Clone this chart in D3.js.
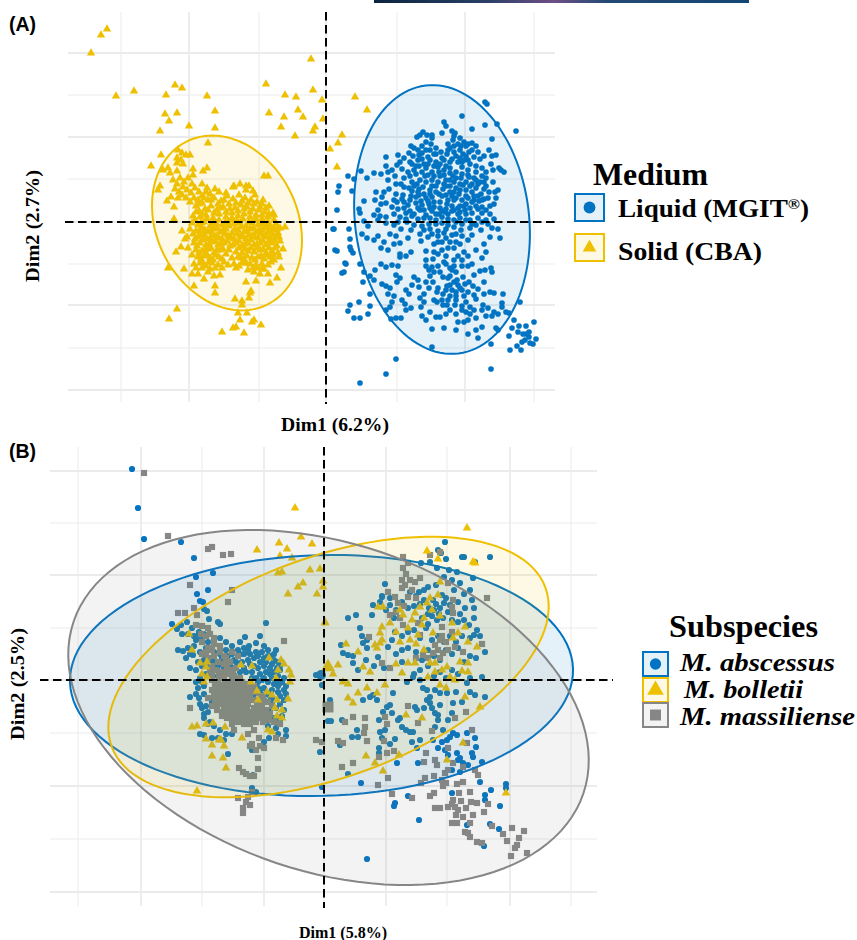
<!DOCTYPE html>
<html><head><meta charset="utf-8">
<script src="https://d3js.org/d3.v7.min.js"></script>
<style>html,body{margin:0;padding:0;background:#fff}svg{display:block}</style>
</head><body><svg id="c" width="857" height="940"></svg>
<script>
// Scores, in arbitrary PCA score units (no tick labels in the source)
const gridStepsA_x=[-205,-137,-67,0,71,139,208];
const gridStepsA_y=[169,127,85,43,0,-42,-83,-126,-168];
const gridStepsB_x=[-246,-183,-122,-60,0,62,123,186,247];
const gridStepsB_y=[209,157,105,52,0,-53,-106,-159,-212];
const mediumLabels=["Liquid (MGIT","Solid (CBA)"];
const subspeciesLabels=["M. abscessus","M. bolletii","M. massiliense"];
const ellipseLiquidA=[116,2.5,135,87,83];
const ellipseSolidA=[-99,-1,91,70.6,63.9];
const ellipseAbscessusB=[-2.5,4.5,251.6,120.4,-1.5];
const ellipseBolletiiB=[4.5,13,231,110,-20.1];
const ellipseMassilienseB=[4.5,-27.5,269,164,18.6];
const solidA=[[-235,169],[-225,187],[-219,193],[-210,126],[-192,131],[-160,127],[-151,137],[-144,134],[-119,126],[-161,108],[-149,109],[-157,101],[-166,91],[-137,96],[-111,111],[-111,94],[-60,138],[-15,163],[-13,132],[-41,127],[-30,125],[-4,122],[-57,109],[-42,105],[-28,112],[-23,105],[-45,95],[-3,103],[-11,95],[-13,91],[-31,86],[4,73],[12,79],[16,87],[11,55],[29,125],[41,112],
[-118,79],[-165,67],[-175,56],[-148,72],[-144,69],[-140,67],[-136,67],[-149,64],[-145,62],[-143,58],[-149,59],[-163,52],[-158,54],[-156,49],[-149,51],[-133,53],[-119,54],[-123,51],[-62,46],[-58,46],[-133,47],
[-153,42],[-149,38],[-146,44],[-142,40],[-138,44],[-134,38],[-151,33],[-147,30],[-143,35],[-139,32],[-135,29],[-131,34],[-127,30],[-148,24],[-144,27],[-140,24],[-136,20],[-132,24],[-128,22],[-124,26],[-120,30],[-116,28],[-124,38],[-119,34],[-111,33],[-107,30],[-100,29],[-92,36],[-86,38],[-80,32],[-77,36],[-71,27],[-168,32],[-166,36],[-159,21],[-155,25],[-152,15],[-152,3],[-144,-9],[-139,-15],[-141,-17],[-145,-25],[-150,-30],[-138,-26],[-158,-46],[-142,-47],[-132,-64],[-111,-64],[-111,-71],[-80,-60],[-70,-59],[-56,-61],[-49,-56],[-58,-52],[-45,-46],[-43,-27],[-41,-5],[-53,9],[-57,16],[-63,22],[-73,31],[-80,36],[-93,35],[-149,-87],[-157,-97],[-91,-77],[-84,-79],[-84,-83],[-75,-69],[-76,-71],[-77,-76],[-88,-91],[-79,-91],[-86,-98],[-72,-98],[-74,-100],[-65,-103],[-104,-110],[-93,-106],[-90,-105],[-82,-111],
[-130,16],[-124,19],[-118,22],[-112,24],[-105,21],[-99,26],[-93,23],[-87,27],[-81,24],[-75,22],[-69,20],[-64,18],[-127,11],[-121,13],[-115,16],[-109,12],[-103,15],[-97,18],[-91,14],[-85,17],[-79,15],[-73,13],[-67,12],[-61,10],[-57,8],[-133,6],[-126,5],[-120,7],[-113,4],[-107,8],[-100,5],[-94,9],[-88,6],[-82,8],[-76,5],[-70,7],[-64,3],[-58,5],[-52,2],[-134,-1],[-128,-3],[-122,0],[-116,-4],[-110,-1],[-104,-3],[-98,0],[-92,-2],[-86,-1],[-80,-4],[-74,-1],[-68,-3],[-62,-1],[-56,-4],[-50,-2],[-46,-6],[-136,-7],[-130,-9],[-124,-6],[-118,-10],[-112,-7],[-106,-10],[-100,-7],[-94,-11],[-88,-8],[-82,-10],[-76,-7],[-70,-10],[-64,-8],[-58,-10],[-52,-8],[-48,-11],[-128,-15],[-122,-13],[-116,-16],[-110,-14],[-104,-17],[-98,-14],[-92,-17],[-86,-14],[-80,-17],[-74,-14],[-68,-16],[-62,-14],[-56,-16],[-50,-15],[-46,-19],[-132,-21],[-126,-21],[-120,-23],[-114,-20],[-108,-23],[-102,-21],[-96,-24],[-90,-21],[-84,-24],[-78,-21],[-72,-23],[-66,-21],[-60,-23],[-54,-21],[-49,-24],[-130,-28],[-124,-29],[-118,-27],[-112,-31],[-106,-28],[-100,-32],[-90,-30],[-84,-31],[-78,-29],[-72,-30],[-66,-28],[-60,-31],[-54,-29],[-48,-31],[-134,-33],[-128,-35],[-122,-34],[-116,-36],[-110,-33],[-104,-37],[-88,-35],[-82,-37],[-74,-36],[-68,-35],[-62,-37],[-56,-35],[-52,-38],[-132,-42],[-126,-41],[-120,-44],[-114,-41],[-108,-43],[-102,-40],[-92,-42],[-84,-41],[-76,-42],[-70,-43],[-64,-42],[-58,-43],[-134,-52],[-128,-52],[-124,-46],[-118,-50],[-112,-54],[-106,-53],[-104,-46],[-90,-46],[-78,-48],[-72,-50],[-66,-52],[-68,-46],[-62,-47],[-122,-57],[-116,-47],
[-127,18],[-122,24],[-115,22],[-108,18],[-102,22],[-96,13],[-90,19],[-84,21],[-78,19],[-72,18],[-66,15],[-60,14],[-130,10],[-124,8],[-118,12],[-112,9],[-106,14],[-100,10],[-94,4],[-88,11],[-82,13],[-76,10],[-70,3],[-64,7],[-58,0],[-52,7],[-131,2],[-125,-1],[-119,3],[-113,-1],[-107,2],[-101,-1],[-95,2],[-89,1],[-83,3],[-77,0],[-71,2],[-65,-2],[-59,-5],[-53,-6],[-133,-12],[-127,-9],[-121,-8],[-115,-9],[-109,-6],[-103,-8],[-97,-4],[-91,-7],[-85,-5],[-79,-9],[-73,-6],[-67,-8],[-61,-6],[-55,-10],[-49,-7],[-131,-17],[-125,-13],[-119,-17],[-113,-13],[-107,-16],[-101,-12],[-95,-16],[-89,-12],[-83,-15],[-77,-13],[-71,-15],[-65,-12],[-59,-15],[-53,-13],[-47,-15],[-129,-24],[-123,-18],[-117,-22],[-111,-19],[-105,-22],[-99,-19],[-93,-23],[-87,-19],[-81,-22],[-75,-18],[-69,-22],[-63,-19],[-57,-20],[-51,-19],[-127,-31],[-121,-28],[-115,-26],[-109,-28],[-103,-27],[-97,-28],[-87,-26],[-81,-27],[-75,-26],[-69,-26],[-63,-27],[-57,-26],[-51,-26],[-125,-37],[-119,-33],[-113,-38],[-107,-35],[-94,-36],[-85,-36],[-79,-34],[-71,-38],[-65,-34],[-59,-33],[-53,-33],[-47,-35],[-130,-46],[-123,-41],[-117,-40],[-111,-46],[-98,-43],[-87,-44],[-80,-41],[-73,-46],[-64,-47],[-55,-40]];
const liquidA=[[159,120],[161,118],[136,106],[171,98],[159,97],[146,93],[190,91],[118,100],[120,96],[126,91],[129,89],[116,89],[97,90],[94,87],[91,85],[101,87],[106,87],[106,84],[166,83],[85,76],[88,74],[127,82],[132,78],[128,76],[124,74],[138,80],[146,79],[150,76],[140,76],[134,72],[163,72],[166,66],[158,66],[170,67],[60,65],[72,67],[83,69],[87,66],[93,67],[96,69],[102,65],[108,68],[115,70],[121,68],[130,66],[137,68],[143,70],[148,65],[154,63],[142,62],[136,60],[124,60],[118,62],[110,60],[104,62],[98,58],[92,62],[84,60],[78,64],[74,60],[165,58],[173,54],[167,52],[175,52],[178,50],[60,56],[66,52],[62,50],[71,57],[76,53],[82,50],[88,52],[93,56],[100,54],[106,50],[112,55],[118,52],[124,54],[130,50],[136,55],[142,52],[150,50],[156,46],[150,42],[143,45],[135,44],[127,46],[120,42],[114,46],[106,42],[99,46],[94,42],[86,40],[78,44],[70,38],[48,49],[35,51],[41,44],[55,48],[62,42],[69,46],[75,38],[83,34],[91,38],[97,35],[104,32],[110,36],[117,33],[124,36],[130,34],[137,37],[144,36],[150,34],[158,40],[160,36],[167,40],[172,32],[169,30],[163,30],[155,28],[148,26],[140,26],[133,28],[126,26],[120,27],[113,28],[106,25],[100,24],[93,27],[85,26],[77,27],[70,28],[63,33],[58,30],[50,30],[56,25],[49,22],[22,46],[28,43],[13,36],[12,30],[26,31],[11,12],[38,21],[33,13],[55,18],[52,12],[60,19],[66,15],[71,20],[68,22],[76,23],[82,17],[90,19],[95,21],[103,18],[108,15],[114,20],[121,18],[128,22],[134,16],[140,18],[146,20],[153,21],[158,23],[164,16],[170,24],[168,18],[160,12],[152,13],[146,9],[139,12],[132,8],[126,11],[119,10],[113,8],[106,11],[100,7],[94,12],[88,8],[80,9],[74,5],[68,8],[60,5],[54,6],[48,7],[34,9],[38,1],[42,-4],[52,2],[60,-1],[68,-3],[75,-7],[81,0],[88,-3],[96,-4],[103,-2],[110,2],[116,-1],[122,3],[130,0],[136,-2],[144,2],[150,-3],[156,0],[162,-2],[168,3],[172,-7],[166,-6],[155,-8],[144,-6],[135,-8],[128,-5],[120,-7],[112,-9],[104,-7],[94,-12],[85,-8],[7,-7],[23,-7],[8,-7],[24,-17],[36,-12],[41,-16],[48,-18],[52,-14],[58,-20],[64,-12],[70,-14],[68,-22],[74,-21],[82,-16],[95,-19],[102,-15],[108,-22],[112,-20],[120,-16],[126,-13],[130,-20],[142,-18],[146,-13],[158,-22],[164,-15],[174,-16],[55,-26],[62,-28],[74,-32],[80,-34],[85,-30],[100,-29],[108,-30],[116,-28],[120,-34],[128,-38],[138,-30],[142,-34],[150,-28],[156,-36],[160,-30],[24,-25],[25,-28],[27,-31],[55,-42],[60,-45],[66,-43],[72,-44],[74,-35],[100,-38],[107,-37],[100,-44],[103,-48],[120,-42],[126,-48],[114,-50],[122,-56],[130,-50],[146,-42],[136,-44],[142,-44],[20,-42],[19,-41],[9,-28],[11,-29],[34,-42],[48,-58],[74,-56],[70,-53],[88,-55],[92,-58],[103,-66],[107,-60],[117,-55],[121,-64],[128,-60],[131,-58],[137,-55],[143,-60],[159,-48],[165,-46],[166,-50],[154,-49],[148,-53],[124,-63],[139,-62],[147,-64],[152,-67],[158,-60],[71,-60],[62,-72],[68,-74],[80,-68],[86,-63],[93,-65],[98,-72],[94,-76],[100,-60],[111,-70],[117,-72],[108,-78],[124,-74],[130,-70],[134,-66],[142,-70],[148,-73],[158,-72],[164,-70],[38,-50],[49,-48],[18,-50],[16,-51],[44,-54],[37,-60],[44,-72],[56,-62],[60,-64],[64,-66],[76,-78],[83,-72],[66,-80],[79,-82],[95,-85],[98,-80],[111,-80],[117,-83],[121,-83],[130,-78],[140,-80],[150,-77],[157,-83],[168,-71],[177,-72],[194,-80],[176,-81],[176,-85],[166,-94],[172,-92],[180,-90],[168,-90],[160,-94],[162,-86],[136,-88],[129,-83],[144,-85],[156,-88],[120,-92],[124,-88],[114,-95],[110,-95],[104,-90],[100,-98],[96,-94],[144,-92],[150,-96],[132,-100],[138,-100],[142,-98],[150,-108],[156,-105],[170,-106],[172,-108],[118,-106],[130,-108],[142,-112],[152,-116],[165,-122],[106,-107],[65,-97],[60,-88],[42,-92],[75,-96],[34,-96],[64,-85],[70,-96],[28,-96],[22,-89],[24,-83],[33,-80],[44,-84],[80,-88],[85,-86],[188,-98],[193,-104],[197,-112],[200,-112],[203,-115],[207,-122],[203,-110],[200,-104],[210,-117],[192,-110],[186,-106],[183,-114],[184,-128],[191,-124],[195,-128],[196,-120],[208,-100],[199,-118],[204,-121],[183,-91],[106,-125],[70,-137],[60,-152],[34,-161],[165,-147],
[100,80],[105,78],[110,74],[96,76],[128,86],[134,84],[122,78],[135,76],[142,78],[104,72],[110,68],[116,64],[122,72],[128,70],[134,64],[140,66],[146,72],[152,70],[100,72],[92,72],[86,58],[90,56],[96,63],[102,58],[108,56],[114,58],[120,56],[126,63],[132,60],[138,62],[144,58],[150,56],[156,54],[160,50],[84,46],[90,48],[96,50],[102,47],[108,46],[113,50],[118,47],[124,49],[130,44],[136,48],[142,47],[148,44],[154,40],[160,44],[88,36],[93,33],[100,40],[106,36],[112,40],[118,38],[124,42],[128,40],[134,38],[140,40],[146,38],[152,38],[158,33],[162,24],[78,35],[86,31],[92,30],[98,28],[104,28],[110,30],[116,26],[122,22],[128,30],[134,32],[140,32],[146,30],[152,26],[156,22],[120,36],[124,30],[130,24],[136,22],[142,24],[148,22],[78,20],[84,22],[90,25],[96,17],[102,21],[108,20],[114,14],[120,13],[126,16],[132,14],[138,16],[144,14],[150,16],[156,15],[72,13],[78,14],[84,11],[92,14],[98,12],[104,14],[110,8],[116,11],[122,8],[128,12],[134,10],[140,8],[156,9],[164,8],[72,0],[80,3],[86,6],[92,3],[98,4],[104,4],[110,-2],[116,5],[122,-3],[128,2],[134,4],[140,2],[146,-2],[152,4],[160,2],[106,-12],[112,-14],[118,-11],[124,-20],[130,-12],[136,-14],[98,-8],[116,-20],[122,-26],[128,-26],[134,-22],[112,-32],[118,-40],[124,-46],[128,-44],[132,-34],[136,-38],[124,-54],[132,-63],[136,-68],[126,-68],[130,-74],[138,-74],[112,-44],[108,-50],[104,-54],[106,-45],[112,-66],[120,-68],[116,-78],[122,-78],[136,-84],[140,-90],[148,-88],[130,-92]];
const abscessusB=[[-192,211],[-186,172],[-180,141],[-143,138],[-130,122],[-128,103],[-111,107],[-116,90],[-127,86],[-124,79],[-121,78],[-120,71],[-117,69],[-115,61],[-106,58],[-104,56],[-58,57],[-64,44],[-68,37],[-60,34],[-56,30],[-48,30],[-152,56],[-147,51],[-143,55],[-137,58],[-132,52],[-142,46],[-136,46],[-130,44],[-125,48],[-128,40],[-122,40],[-116,38],[-98,38],[-92,34],[-84,38],[-79,43],[-75,34],[-80,32],[-146,30],[-141,29],[-136,32],[-131,25],[-124,28],[-102,22],[-96,24],[-90,20],[-84,26],[-76,30],[-70,22],[-66,24],[-60,22],[-54,24],[-50,20],[-46,18],[-134,12],[-128,10],[-122,14],[-116,16],[-108,18],[-100,12],[-94,14],[-88,12],[-80,12],[-74,16],[-66,12],[-60,14],[-54,12],[-50,8],[-44,10],[-124,2],[-118,6],[-72,8],[-64,6],[-58,8],[-52,2],[-46,4],[-40,2],[-68,2],[-62,0],[-56,-2],[-50,-4],[-44,-3],[-38,-6],[-126,-8],[-120,-6],[-72,-6],[-66,-8],[-60,-8],[-52,-10],[-46,-12],[-40,-10],[-134,-17],[-125,-18],[-120,-14],[-112,-22],[-60,-20],[-52,-18],[-44,-16],[-40,-20],[-122,-28],[-116,-32],[-54,-30],[-48,-28],[-40,-30],[-120,-38],[-114,-42],[-50,-38],[-44,-40],[-124,-54],[-120,-55],[-112,-58],[-106,-58],[-100,-60],[-46,-54],[-38,-56],[-38,-50],[-55,-58],[-60,-62],[-96,-74],[-72,-70],[-71,-95],[-68,-112],[-72,-108],[4,-41],[-2,-5],[-8,5],
[-110,28],[-104,26],[-98,30],[-92,26],[-86,30],[-80,26],[-74,26],[-68,28],[-62,28],[-56,24],[-50,26],[-47,12],[-112,20],[-106,14],[-100,20],[-94,8],[-88,18],[-82,18],[-76,20],[-70,14],[-64,18],[-58,18],[-52,16],[-44,14],[-112,6],[-106,4],[-84,8],[-78,8],[-72,2],[-66,-2],[-60,2],[-54,6],[-48,-2],[-42,-2],[-128,-2],[-122,-2],[-78,-4],[-70,-14],[-64,-12],[-58,-14],[-54,-16],[-46,-6],[-38,-14],[-128,-14],[-124,-24],[-118,-26],[-120,-34],[-116,-44],[-110,-46],[-104,-50],[-98,-54],[-92,-54],[-56,-46],[-48,-48],[-44,-24],[-42,-36],[-52,-24],[-126,44],[-120,46],[-118,32],[-110,40],[-104,42],[-130,34],[-134,26],[-138,22],[-126,18],[-120,20],
[121,138],[114,130],[122,121],[138,123],[140,123],[151,118],[166,123],[117,127],[97,117],[106,118],[113,112],[125,110],[133,108],[149,102],[128,100],[120,103],[61,96],[58,83],[95,88],[104,93],[112,95],[136,97],[146,90],[148,80],[150,72],[141,72],[136,66],[150,62],[145,55],[153,50],[156,44],[161,28],[158,36],[150,45],
[109,80],[112,76],[116,72],[120,77],[124,68],[110,70],[115,66],[119,62],[105,72],[122,82],[118,85],[126,75],[108,64],[113,60],[104,66],[100,80],[96,76],[92,84],[86,88],[100,90],[130,90],[140,86],[134,78],[128,60],[134,58],[140,60],[104,56],[98,62],[90,74],[84,72],[78,78],[72,70],[66,82],[70,62],[62,70],[56,78],
[24,62],[32,65],[48,65],[36,52],[38,44],[43,40],[17,35],[19,27],[24,25],[29,24],[29,17],[39,37],[43,32],[54,23],[49,75],[58,84],[66,75],[71,48],[68,40],[64,33],[78,44],[84,48],[90,50],[96,42],[102,52],[108,40],[114,44],[120,38],[126,44],[132,38],[138,44],[146,42],[104,30],[110,24],[116,20],[122,30],[128,26],[134,32],[140,18],[146,24],[72,26],[78,30],[84,32],[92,28],[98,20],[90,6],[96,10],[104,14],[110,4],[116,8],[122,2],[128,10],[134,6],[146,2],[152,22],[78,18],[60,12],[50,14],[42,20],[34,10],
[39,-20],[46,-17],[49,-15],[53,-20],[69,-13],[63,-27],[66,-25],[59,-32],[68,-33],[55,-40],[61,-50],[56,-52],[58,-58],[55,-68],[55,-73],[71,-59],[76,-38],[74,-40],[78,-47],[86,-52],[89,-52],[91,-27],[93,-30],[103,-20],[106,-23],[108,-28],[111,-33],[114,-35],[106,-17],[99,-8],[103,-10],[111,-10],[116,-13],[123,-13],[96,0],[89,3],[83,-2],[129,-23],[128,-33],[146,-12],[151,-15],[161,-17],[158,3],[143,-3],[114,-40],[111,-47],[119,-50],[126,-57],[129,-53],[133,-55],[123,-60],[118,-62],[109,-60],[114,-68],[121,-70],[124,-75],[133,-73],[136,-78],[139,-83],[144,-85],[143,-53],[151,-58],[152,-67],[148,-73],[149,-77],[158,-82],[134,-80],[156,-102],[167,-110],[182,-104],[182,-108],[161,-115],[161,-120],[176,-126],[166,-144],[175,-149],[160,-166],[143,-145],[128,-113],[95,-140],[84,-116],[71,-123],[70,-126],[43,-179],[37,-103],[24,-94],[73,-83],[93,-68],[94,-83],[7,-41],[18,-40],[28,-57],[33,-50],[16,-65],[34,-57],[96,-60],[88,-62],[82,-50],[66,-64],[-4,-72],[6,-20],[-2,-107],[100,-28],[116,-25],[124,-40],[132,-12],[138,-22],[128,-90],[136,-92]];
const bolletiiB=[[-29,172],[-67,130],[-45,137],[-37,131],[-23,143],[-12,136],[-44,124],[-32,122],[-46,107],[-42,108],[-14,110],[-4,111],[-26,93],[-21,97],[-36,86],[-7,86],[-1,99],[-1,93],[1,57],[-127,-111],
[-135,46],[-132,30],[-124,17],[-117,18],[-118,13],[-83,15],[-72,14],[-55,22],[-43,20],[-40,16],[-35,10],[-122,6],[-117,3],[-120,-2],[-73,-2],[-46,10],[-48,2],[-33,5],[-34,-2],[-67,-11],[-66,-20],[-57,-12],[-52,-15],[-36,-19],[-47,-20],[-49,-28],[-47,-36],[-42,-30],[-42,-38],[-132,-47],[-127,-46],[-118,-44],[-111,-43],[-99,-47],[-118,-59],[-112,-65],[-103,-60],[-100,-66],[-105,-60],[-112,-76],[-101,-78],[-98,-88],[-82,-58],[-56,-50],[-52,-52],
[143,152],[103,129],[114,121],[149,118],[151,117],[182,-113],[123,-80],[82,-35],[98,-38],[42,-76],[51,-83],[59,-91],[75,-75],[156,-27],[141,-17],[139,-63],[24,-18],[29,-23],[43,-8],[53,-13],[34,-13],[19,-2],[24,-4],[9,6],[14,15],[39,13],[46,8],[61,-5],[72,16],[78,7],[34,28],[22,36],[1,58],
[51,35],[56,37],[53,32],[58,40],[56,47],[58,53],[66,57],[54,73],[59,73],[76,70],[79,65],[91,67],[103,77],[114,85],[116,98],[96,73],[106,82],[128,57],[141,53],[134,47],[129,42],[144,38],[153,33],[94,45],[109,47],[76,38],[86,40],[98,55],[84,17],[91,17],[106,17],[111,17],[123,13],[136,18],[144,17],[111,8],[104,3],[126,3],[131,0],[116,-5],[122,-8],[138,9],[144,8],[118,10],[88,60],[100,62],[108,70],[84,52],[72,48],[116,64],[92,36],[100,30]];
const massilienseB=[[-180,207],[-156,144],[-116,131],[-112,133],[-101,125],[-93,126],[-134,95],[-92,90],[-96,78],[-146,67],[-139,67],[-130,72],[-127,65],[-40,39],
[-128,55],[-122,54],[-116,52],[-114,46],[-122,38],[-116,32],[-110,36],[-104,34],[-122,26],[-116,22],[-110,24],[-104,28],[-98,22],[-92,28],[-86,24],[-100,16],[-94,18],[-88,12],[-108,10],[-114,8],[-102,8],[-96,6],[-90,4],[-84,2],[-112,0],[-106,-2],[-100,2],[-94,-4],[-88,-4],[-82,-2],[-76,-4],[-112,-10],[-106,-8],[-100,-10],[-94,-12],[-88,-12],[-82,-10],[-76,-10],[-70,-6],[-64,-16],[-116,-18],[-110,-16],[-104,-18],[-98,-20],[-92,-20],[-86,-18],[-80,-18],[-74,-16],[-68,-20],[-62,-24],[-56,-22],[-112,-26],[-106,-24],[-100,-28],[-94,-28],[-88,-26],[-82,-26],[-76,-24],[-70,-28],[-64,-30],[-58,-30],[-52,-26],[-102,-36],[-96,-34],[-90,-36],[-84,-34],[-78,-34],[-72,-36],[-66,-38],[-60,-38],[-54,-34],[-50,-42],[-80,-44],[-74,-44],[-68,-42],[-92,-44],[-86,-42],[-90,-50],[-76,-54],[-70,-50],[-44,-44],[-48,-58],[-41,-60],[-74,-66],[-72,-64],[-68,-70],[-64,-66],[-60,-68],[-66,-78],[-65,-58],[-85,-88],[-81,-92],[-78,-94],[-74,-96],[-70,-96],[-66,-89],[-76,-117],[-78,-122],[-72,-112],[-86,-118],[-74,-125],[-81,-133],[-81,-128],[-134,-28],
[-109,-5],[-103,-5],[-97,-8],[-91,-8],[-85,-8],[-79,-6],[-109,-13],[-103,-14],[-97,-15],[-91,-15],[-85,-14],[-79,-14],[-73,-12],[-67,-12],[-109,-21],[-103,-22],[-97,-24],[-91,-24],[-85,-22],[-79,-22],[-73,-20],[-67,-24],[-61,-18],[-107,-30],[-101,-32],[-95,-31],[-89,-31],[-83,-30],[-77,-30],[-71,-32],[-65,-34],[-59,-34],[-97,-38],[-91,-40],[-85,-38],[-79,-39],[-73,-40],[-67,-36],[-61,-42],[-55,-40],[-112,4],[-105,4],[-99,-2],[-92,0],[-86,-1],[-97,12],[-91,10],[-112,14],[-106,18],[-118,28],[-112,30],[-100,24],[-118,44],[-123,46],[-110,42],
[79,123],[84,117],[106,125],[116,128],[163,82],[158,36],[45,43],[58,17],[66,12],[78,100],[81,95],[86,100],[91,98],[96,102],[64,88],[71,83],[74,77],[84,83],[66,65],[76,62],[79,55],[94,57],[96,45],[118,53],[116,40],[111,35],[99,25],[109,27],[119,27],[131,33],[139,28],[129,67],[128,73],[124,97],[129,80],[79,112],[82,106],[78,92],[88,90],[92,82],[80,74],[72,68],[118,44],[122,38],[128,48],[124,30],[114,30],[104,22],[92,22],[116,22],
[68,-114],[88,-118],[97,-103],[101,-98],[106,-116],[110,-113],[111,-128],[116,-128],[119,-106],[122,-103],[124,-127],[129,-120],[131,-127],[137,-121],[132,-135],[139,-137],[128,-143],[133,-143],[146,-143],[146,-112],[147,-122],[153,-123],[164,-124],[160,-132],[149,-135],[168,-146],[141,-152],[144,-153],[146,-157],[153,-162],[158,-163],[179,-154],[188,-148],[200,-151],[183,-161],[195,-158],[193,-165],[191,-168],[187,-176],[203,-173],[135,-113],[139,-102],[133,-104],[154,-95],[151,-90],[121,-93],[124,-90],[111,-80],[113,-85],[100,-82],[102,-73],[139,-87],[143,-63],[148,-50],[131,-38],[142,-32],[108,-51],[94,-43],[84,-26],[63,-44],[61,-37],[41,-38],[41,-47],[40,-53],[43,-61],[29,-37],[21,-42],[14,-61],[19,-63],[29,-83],[18,-87],[60,-61],[55,-77],[63,-73],[70,-71],[54,-105],[64,-98],[124,-68],[129,-83],[110,-96],[118,-100],[128,-124],[134,-130],[142,-128],[-8,-60],[-2,-62]];

const BLUE="#0073C2",YEL="#EFC000",GREY="#868686",GRID="#ebebeb";
const svg=d3.select("#c");
const defs=svg.append("defs");
const lg=defs.append("linearGradient").attr("id","bn");
[["0%","#0b2540"],["30%","#2a3f66"],["48%","#6d4f86"],["62%","#234a74"],["100%","#144573"]].forEach(s=>lg.append("stop").attr("offset",s[0]).attr("stop-color",s[1]));
svg.append("rect").attr("x",374).attr("y",0).attr("width",375).attr("height",3).attr("fill","url(#bn)");

function ellipsePts(e){const [cx,cy,a,b,rotDeg]=e,r=rotDeg*Math.PI/180;
  return d3.range(0,361,3).map(d=>{const t=d*Math.PI/180,u=a*Math.cos(t),v=b*Math.sin(t);
    return [cx+u*Math.cos(r)+v*Math.sin(r),cy-(u*Math.sin(r)-v*Math.cos(r))];});}
function panel(o){
  const g=svg.append("g");
  const x=d3.scaleLinear().domain([-100,100]).range([o.cx-100,o.cx+100]);
  const y=d3.scaleLinear().domain([-100,100]).range([o.cy+100,o.cy-100]);
  const gx=g.append("g"),gy=g.append("g");
  gx.selectAll("line").data(o.gridX).join("line").attr("x1",d=>x(d)).attr("x2",d=>x(d)).attr("y1",o.top).attr("y2",o.bottom)
    .attr("stroke",GRID).attr("stroke-width",(d,i)=>i%2==o.majX?1.8:1);
  gy.selectAll("line").data(o.gridY).join("line").attr("y1",d=>y(d)).attr("y2",d=>y(d)).attr("x1",o.left).attr("x2",o.right)
    .attr("stroke",GRID).attr("stroke-width",(d,i)=>i%2==0?1.8:1);
  const line=d3.line().x(d=>x(d[0])).y(d=>y(d[1]));
  const ell=es=>es.forEach(e=>g.append("path").attr("d",line(ellipsePts(e.p))+"Z").attr("fill",e.c).attr("fill-opacity",.1).attr("stroke",e.c).attr("stroke-width",o.sw));
  const draw=(data,type,size,c)=>g.append("g").selectAll("path").data(data).join("path")
    .attr("transform",d=>`translate(${x(d[0])},${y(d[1])})`)
    .attr("d",d3.symbol().type(type).size(size)).attr("fill",c);
  o.series.forEach(s=>draw(s.d,s.t,s.s,s.c));
  (o.means||[]).forEach(m=>draw([m.d],m.t,m.s,m.c));
  ell(o.ellipses);
  g.append("line").attr("x1",o.hx0).attr("x2",o.hx1).attr("y1",y(0)).attr("y2",y(0)).attr("stroke","#000").attr("stroke-width",2).attr("stroke-dasharray","8.5 4.5");
  g.append("line").attr("x1",x(0)).attr("x2",x(0)).attr("y1",o.vy0).attr("y2",o.vy1).attr("stroke","#000").attr("stroke-width",2).attr("stroke-dasharray","8.5 4.5");
}
const T=d3.symbolTriangle,C=d3.symbolCircle,S=d3.symbolSquare;
panel({cx:326,cy:222,top:12,bottom:402,left:68,right:555,gridX:gridStepsA_x,gridY:gridStepsA_y,majX:1,sw:2,hx0:65,hx1:556,vy0:12,vy1:404,
  series:[{d:liquidA,t:C,s:25,c:BLUE},{d:solidA,t:T,s:30,c:YEL}],
  ellipses:[{p:ellipseLiquidA,c:BLUE},{p:ellipseSolidA,c:YEL}]});
panel({cx:324,cy:680,top:447,bottom:906,left:50,right:597,gridX:gridStepsB_x,gridY:gridStepsB_y,majX:1,sw:2,hx0:40,hx1:613,vy0:447,vy1:908,
  series:[{d:abscessusB,t:C,s:30,c:BLUE},{d:massilienseB,t:S,s:38,c:GREY},{d:bolletiiB,t:T,s:32,c:YEL}],
  means:[{d:[4,13],t:T,s:90,c:YEL},{d:[-3,5],t:C,s:80,c:BLUE},{d:[4,-27],t:S,s:120,c:GREY}],
  ellipses:[{p:ellipseAbscessusB,c:BLUE},{p:ellipseBolletiiB,c:YEL},{p:ellipseMassilienseB,c:GREY}]});

const SER="'Liberation Serif',serif",SAN="'Liberation Sans',sans-serif";
const txt=(s,x,y,f,sz,extra={})=>{const t=svg.append("text").attr("x",x).attr("y",y).attr("font-family",f).attr("font-size",sz).attr("font-weight","bold").attr("fill","#000").text(s);
  Object.entries(extra).forEach(([k,v])=>t.attr(k,v));return t;};
txt("(A)",9,31,SAN,19.5);txt("(B)",9,458,SAN,19.5);
txt("Dim1 (6.2%)",335,431,SER,18,{"text-anchor":"middle",textLength:108,lengthAdjust:"spacingAndGlyphs"});
txt("Dim1 (5.8%)",343,938,SER,16,{"text-anchor":"middle"});
txt("Dim2 (2.7%)",0,0,SER,18,{"text-anchor":"middle",textLength:112,lengthAdjust:"spacingAndGlyphs",transform:"translate(39,226) rotate(-90)"});
txt("Dim2 (2.5%)",0,0,SER,18,{"text-anchor":"middle",textLength:112,lengthAdjust:"spacingAndGlyphs",transform:"translate(24,684) rotate(-90)"});

txt("Medium",593,185,SER,31,{textLength:115,lengthAdjust:"spacingAndGlyphs"});
function key(x,y,w,h,c,type,size,label,lx,ly,font,extra){
  svg.append("rect").attr("x",x).attr("y",y).attr("width",w).attr("height",h).attr("fill",c).attr("fill-opacity",.1).attr("stroke",c).attr("stroke-width",2);
  svg.append("path").attr("transform",`translate(${x+w/2},${y+h/2})`).attr("d",d3.symbol().type(type).size(size)).attr("fill",c);
  return txt(label,lx,ly,SER,font,extra);
}
const adj="spacingAndGlyphs";
const liq=key(575,194,29,27,BLUE,C,110,mediumLabels[0],618,217,25);
liq.append("tspan").attr("font-size",15).attr("dy",-8).text("®");
liq.append("tspan").attr("dy",8).text(")");
liq.attr("textLength",191).attr("lengthAdjust",adj);
key(575,234,29,27,YEL,T,80,mediumLabels[1],618,260,25,{textLength:144,lengthAdjust:adj});
txt("Subspecies",669,637,SER,31,{textLength:149,lengthAdjust:adj});
key(643,652,25,24,BLUE,C,100,subspeciesLabels[0],680,671,26,{"font-style":"italic",textLength:155,lengthAdjust:adj});
key(643,678,25,24,YEL,T,120,subspeciesLabels[1],684,698,26,{"font-style":"italic",textLength:119,lengthAdjust:adj});
key(643,703,25,24,GREY,S,120,subspeciesLabels[2],680,725,26,{"font-style":"italic",textLength:175,lengthAdjust:adj});
</script></body></html>
